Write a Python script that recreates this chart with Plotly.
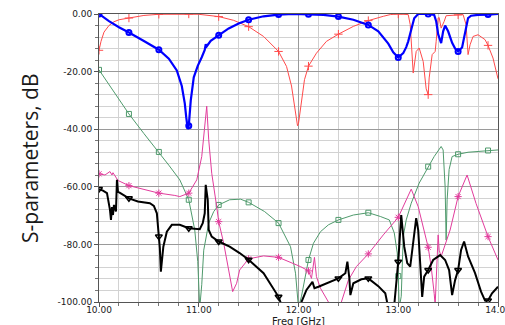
import numpy as np
import plotly.graph_objects as go

# ---------------- data ----------------
X_TICKS = [10, 11, 12, 13, 14]
X_TICK_LABELS = ["10.00", "11.00", "12.00", "13.00", "14.00"]
Y_TICKS = [0, -20, -40, -60, -80, -100]
Y_TICK_LABELS = ["0.00", "-20.00", "-40.00", "-60.00", "-80.00", "-100.00"]

blue_f = [10.00, 10.10, 10.20, 10.30, 10.45, 10.60, 10.70, 10.78, 10.83, 10.86, 10.875, 10.89, 10.90,
          10.92, 10.95, 10.99, 11.03, 11.06, 11.07, 11.08, 11.12, 11.20, 11.30, 11.40, 11.50, 11.65,
          11.80, 11.95, 12.10, 12.25, 12.40, 12.55, 12.70, 12.80, 12.90, 12.95, 13.00, 13.05, 13.08,
          13.10, 13.13, 13.16, 13.20, 13.30, 13.36, 13.38, 13.40, 13.43, 13.45, 13.47, 13.50, 13.54,
          13.57, 13.60, 13.64, 13.67, 13.70, 13.73, 13.80, 13.90, 14.00]
blue_db = [0.0, -2.5, -4.6, -6.4, -9.4, -12.4, -15.5, -19.6, -25.0, -31.0, -36.0, -40.0, -38.8,
           -30.0, -22.0, -18.0, -15.0, -12.5, -10.5, -11.2, -9.3, -7.4, -5.0, -3.3, -2.0, -0.8,
           -0.2, 0.0, -0.1, -0.3, -0.9, -2.0, -3.8, -6.0, -10.3, -13.3, -15.1, -13.6, -11.5,
           -9.5, -5.5, -1.5, 0.0, 0.0, -0.3, -2.5, -7.0, -10.1, -6.0, -4.0, -6.0, -10.0,
           -12.0, -13.0, -11.6, -6.6, -1.4, -0.6, -0.3, -0.2, 0.0]

red_f = [10.00, 10.02, 10.05, 10.10, 10.15, 10.20, 10.30, 10.45, 10.60, 10.90, 11.00, 11.20, 11.35,
         11.50, 11.65, 11.80, 11.88, 11.93, 11.965, 11.99, 12.00, 12.03, 12.06, 12.10, 12.18, 12.28,
         12.40, 12.55, 12.70, 12.85, 12.92, 13.00, 13.10, 13.12, 13.15, 13.18, 13.21, 13.25, 13.28,
         13.30, 13.31, 13.34, 13.37, 13.38, 13.40, 13.41, 13.43, 13.46, 13.48, 13.60, 13.65, 13.68,
         13.70, 13.72, 13.75, 13.80, 13.87, 13.90, 13.95, 14.00]
red_db = [-12.6, -9.5, -6.3, -4.0, -2.7, -2.0, -1.4, -0.5, -0.1, 0.0, -0.1, -0.9, -2.2,
          -4.4, -7.8, -13.0, -18.2, -25.0, -33.0, -38.8, -38.0, -29.8, -22.8, -18.1, -13.6, -9.5,
          -7.0, -4.3, -2.3, -0.8, -0.2, 0.0, -0.2, -3.7, -20.5, -13.0, -11.8, -16.5, -26.0,
          -28.0, -22.2, -14.1, -13.0, -9.5, -1.4, -1.2, -4.9, -2.6, -0.6, -0.3, -0.2, -3.7,
          -14.1, -10.7, -7.8, -7.2, -8.9, -10.9, -15.3, -22.5]

green_f = [10.00, 10.10, 10.20, 10.30, 10.45, 10.60, 10.70, 10.81, 10.90, 10.96, 10.99, 11.01, 11.03,
           11.05, 11.10, 11.15, 11.20, 11.31, 11.42, 11.50, 11.66, 11.80, 11.92, 11.97, 12.00, 12.03,
           12.06, 12.10, 12.15, 12.22, 12.30, 12.40, 12.55, 12.70, 12.82, 12.91, 12.96, 12.99, 13.00,
           13.01, 13.03, 13.05, 13.08, 13.13, 13.21, 13.30, 13.36, 13.43, 13.45, 13.47, 13.48, 13.49,
           13.51, 13.54, 13.60, 13.70, 13.90, 14.00]
green_db = [-19.4, -24.5, -29.8, -34.7, -41.5, -47.9, -52.5, -57.6, -64.5, -75.0, -86.0, -102.0, -94.0,
            -82.0, -72.6, -68.6, -66.3, -64.5, -64.3, -65.4, -68.6, -72.6, -80.8, -90.0, -102.0, -98.0,
            -92.4, -85.4, -79.6, -75.6, -73.2, -71.5, -69.8, -69.0, -70.3, -71.5, -76.0, -83.0, -91.0,
            -102.0, -98.0, -77.3, -71.5, -65.7, -58.7, -53.0, -49.5, -46.0, -47.2, -60.0, -78.5, -64.5,
            -54.0, -49.5, -48.7, -48.0, -47.4, -47.2]

pink_f = [10.00, 10.06, 10.11, 10.13, 10.14, 10.16, 10.19, 10.30, 10.46, 10.60, 10.76, 10.81, 10.90,
          10.98, 11.03, 11.06, 11.08, 11.10, 11.13, 11.18, 11.20, 11.25, 11.30, 11.34, 11.38, 11.41,
          11.50, 11.65, 11.80, 11.91, 12.02, 12.10, 12.13, 12.16, 12.18, 12.22, 12.29, 12.35, 12.43,
          12.50, 12.58, 12.70, 12.85, 13.00, 13.13, 13.20, 13.30, 13.33, 13.36, 13.37, 13.40, 13.41,
          13.43, 13.52, 13.60, 13.63, 13.69, 13.78, 13.90, 14.00]
pink_db = [-55.5, -55.9, -54.7, -55.9, -55.1, -56.2, -57.8, -59.6, -61.0, -62.2, -63.0, -63.4, -62.2,
           -57.6, -49.5, -40.2, -32.0, -43.7, -55.3, -66.9, -72.1, -79.6, -88.9, -96.4, -93.5, -88.9,
           -85.0, -84.0, -84.5, -86.0, -87.7, -89.2, -91.8, -84.5, -91.2, -95.2, -99.3, -103.0, -100.0,
           -92.4, -87.7, -83.3, -76.7, -70.6, -60.8, -66.9, -81.0, -87.7, -97.0, -101.0, -76.7, -82.0,
           -84.2, -75.0, -63.4, -61.0, -55.9, -65.8, -77.3, -85.4]

black_f = [10.00, 10.04, 10.08, 10.09, 10.11, 10.12, 10.13, 10.14, 10.15, 10.17, 10.18, 10.19, 10.24,
           10.30, 10.39, 10.51, 10.55, 10.58, 10.60, 10.61, 10.62, 10.645, 10.68, 10.73, 10.81, 10.90,
           11.01, 11.04, 11.06, 11.07, 11.09, 11.10, 11.13, 11.20, 11.31, 11.41, 11.50, 11.65, 11.80,
           11.84, 11.95, 12.03, 12.08, 12.12, 12.14, 12.16, 12.20, 12.40, 12.47, 12.49, 12.51, 12.52,
           12.55, 12.63, 12.70, 12.80, 12.87, 12.90, 12.96, 13.00, 13.02, 13.03, 13.06, 13.09, 13.12,
           13.15, 13.18, 13.20, 13.23, 13.24, 13.26, 13.30, 13.35, 13.42, 13.47, 13.51, 13.54, 13.57,
           13.60, 13.63, 13.66, 13.70, 13.77, 13.83, 13.87, 13.90, 13.94, 14.00]
black_db = [-60.8, -61.3, -62.2, -64.0, -68.0, -71.5, -67.0, -69.8, -66.3, -68.6, -57.6, -61.7, -62.8,
            -64.0, -65.1, -65.7, -66.6, -69.2, -77.3, -81.3, -89.5, -80.8, -75.6, -73.2, -73.2, -74.4,
            -74.7, -72.6, -69.2, -59.3, -64.5, -75.0, -77.3, -79.0, -80.8, -83.0, -85.3, -90.0, -98.2,
            -102.0, -105.0, -100.0, -95.8, -94.1, -93.0, -95.2, -94.7, -91.8, -90.0, -86.0, -91.8, -97.6,
            -93.5, -92.1, -91.8, -94.5, -97.0, -102.0, -101.0, -86.0, -76.1, -69.8, -80.8, -86.5, -87.7,
            -79.6, -70.9, -75.0, -91.2, -98.2, -91.2, -88.9, -85.4, -83.7, -85.4, -88.9, -97.6, -92.4,
            -88.9, -81.9, -79.0, -84.2, -90.0, -96.4, -99.5, -99.5, -97.0, -94.7]

MARKER_START = 10.0
MARKER_STEP = 0.3

# ---------------- figure ----------------
fig = go.Figure()


def marker_subset(f, v):
    f = np.asarray(f)
    v = np.asarray(v)
    k = (f - MARKER_START) / MARKER_STEP
    sel = np.abs(k - np.round(k)) < 1e-6
    return f[sel], v[sel]


def add_series(f, v, color, width, symbol, msize, mwidth):
    fig.add_trace(go.Scatter(x=f, y=v, mode="lines", line=dict(color=color, width=width),
                             hoverinfo="skip", showlegend=False))
    mf, mv = marker_subset(f, v)
    fig.add_trace(go.Scatter(x=mf, y=mv, mode="markers",
                             marker=dict(symbol=symbol, size=msize, color=color,
                                         line=dict(color=color, width=mwidth)),
                             hoverinfo="skip", showlegend=False, cliponaxis=True))


add_series(green_f, green_db, "#4f9a6c", 1, "square-open", 5, 1)
add_series(pink_f, pink_db, "#e23c9c", 1, "asterisk-open", 6, 1)
add_series(red_f, red_db, "#ff4a4a", 1, "cross-thin-open", 6, 1)
add_series(black_f, black_db, "#000000", 2.0, "triangle-down-open", 6, 1.5)
add_series(blue_f, blue_db, "#0000ff", 2.2, "circle-open", 5, 2)

tick_font = dict(family="DejaVu Sans", size=9, color="#1a1a1a")

fig.update_layout(
    width=505, height=325,
    margin=dict(l=99, r=7, t=14, b=23, autoexpand=False),
    paper_bgcolor="white", plot_bgcolor="white",
    showlegend=False,
    xaxis=dict(range=[10, 14], tickmode="array", tickvals=X_TICKS, ticktext=X_TICK_LABELS,
               ticks="outside", ticklen=4, tickcolor="#555", tickfont=tick_font,
               ticklabelstandoff=-5, ticklabeloverflow="allow", automargin=False,
               showline=True, linecolor="#555", linewidth=1, mirror=True,
               showgrid=True, gridcolor="#9a9a9a", gridwidth=1, zeroline=False,
               minor=dict(tickmode="linear", tick0=10, dtick=0.2, ticks="outside", ticklen=3,
                          tickcolor="#777", showgrid=True, gridcolor="#d2d2d2", gridwidth=1)),
    yaxis=dict(range=[-100, 0], tickmode="array", tickvals=Y_TICKS, ticktext=Y_TICK_LABELS,
               ticks="outside", ticklen=4, tickcolor="#555", tickfont=tick_font,
               automargin=False,
               showline=True, linecolor="#555", linewidth=1, mirror=True,
               showgrid=True, gridcolor="#9a9a9a", gridwidth=1, zeroline=False,
               minor=dict(tickmode="linear", tick0=0, dtick=4, ticks="outside", ticklen=3,
                          tickcolor="#777", showgrid=True, gridcolor="#d2d2d2", gridwidth=1)),
    annotations=[
        dict(text="Freq [GHz]", x=0.5, y=-0.041, xref="paper", yref="paper",
             xanchor="center", yanchor="top", showarrow=False,
             font=dict(family="DejaVu Sans", size=10, color="#1a1a1a")),
        dict(text="S-parameters, dB", textangle=-90, x=-0.173, y=0.5, xref="paper", yref="paper",
             xanchor="center", yanchor="middle", showarrow=False,
             font=dict(family="Open Sans", size=21, color="#1a1a1a")),
    ],
)

fig.write_html("out.html")
